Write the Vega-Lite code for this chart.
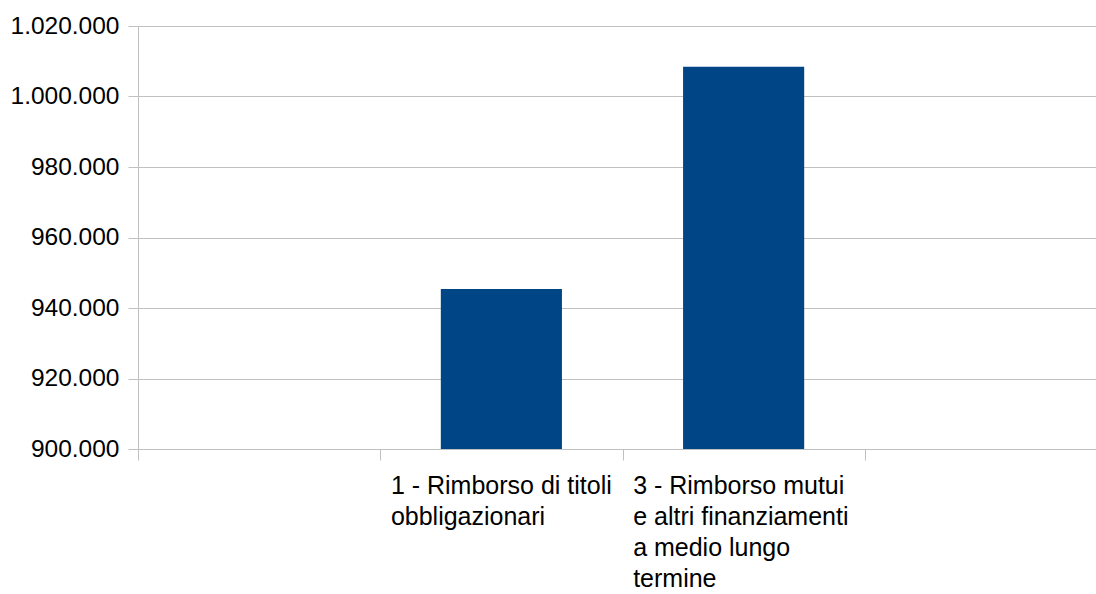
{
  "$schema": "https://vega.github.io/schema/vega-lite/v6.json",
  "autosize": {"type": "none"},
  "width": 958,
  "height": 423,
  "padding": {"left": 138, "top": 26, "right": 0, "bottom": 145},
  "background": "white",
  "config": {
    "locale": {"number": {"decimal": ",", "thousands": ".", "grouping": [3], "currency": ["€", ""]}},
    "view": {"stroke": null},
    "font": "Liberation Sans"
  },
  "data": {
    "values": [
      {"categoria": "1 - Rimborso di titoli obbligazionari", "importo": 945400},
      {"categoria": "3 - Rimborso mutui e altri finanziamenti a medio lungo termine", "importo": 1008450}
    ]
  },
  "mark": {"type": "bar", "color": "#004586", "clip": true, "width": {"band": 0.5}},
  "encoding": {
    "x": {
      "field": "categoria",
      "type": "nominal",
      "sort": null,
      "scale": {
        "domain": ["", "1 - Rimborso di titoli obbligazionari", "3 - Rimborso mutui e altri finanziamenti a medio lungo termine", " "],
        "range": [0, 969],
        "paddingInner": 0,
        "paddingOuter": 0
      },
      "axis": {
        "title": null,
        "labelAngle": 0,
        "labelAlign": "left",
        "labelBaseline": "top",
        "labelOffset": -111,
        "labelPadding": 13,
        "labelFontSize": 25,
        "labelLineHeight": 31,
        "labelColor": "#000000",
        "labelFont": "Liberation Sans",
        "labelLimit": 0,
        "labelOverlap": false,
        "labelExpr": "datum.value == '1 - Rimborso di titoli obbligazionari' ? ['1 - Rimborso di titoli', 'obbligazionari'] : datum.value == '3 - Rimborso mutui e altri finanziamenti a medio lungo termine' ? ['3 - Rimborso mutui', 'e altri finanziamenti', 'a medio lungo', 'termine'] : ''",
        "tickBand": "extent",
        "tickSize": 11,
        "tickColor": "#c0c0c0",
        "domainColor": "#c0c0c0",
        "grid": false
      }
    },
    "y": {
      "field": "importo",
      "type": "quantitative",
      "scale": {"domain": [900000, 1020000], "zero": false, "nice": false},
      "axis": {
        "title": null,
        "values": [900000, 920000, 940000, 960000, 980000, 1000000, 1020000],
        "format": ",d",
        "labelFontSize": 24.5,
        "labelColor": "#000000",
        "labelFont": "Liberation Sans",
        "labelPadding": 9,
        "tickSize": 10,
        "tickColor": "#c0c0c0",
        "domainColor": "#c0c0c0",
        "gridColor": "#c0c0c0",
        "grid": true
      }
    }
  }
}
